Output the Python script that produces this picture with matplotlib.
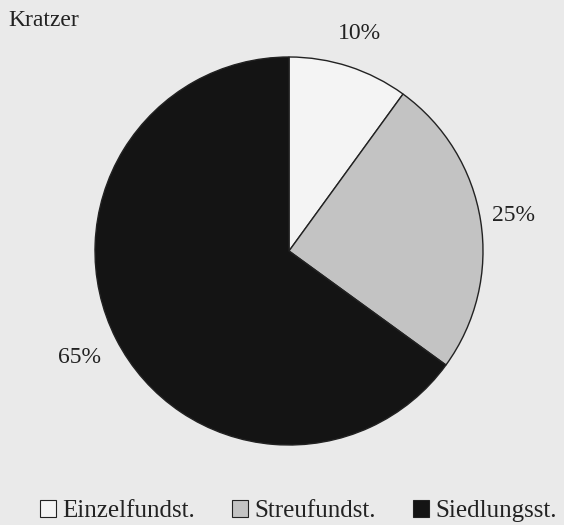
import numpy as np
import matplotlib.pyplot as plt
from matplotlib.patches import Patch

plt.rcParams['font.family'] = ['Liberation Serif', 'DejaVu Serif']

categories = ['Einzelfundst.', 'Streufundst.', 'Siedlungsst.']
shares = [10, 25, 65]
colors = ['#f4f4f4', '#c3c3c3', '#141414']
label_dist = [1.18, 1.17, 1.21]

bg = '#eaeaea'
fig = plt.figure(figsize=(5.64, 5.25), dpi=100, facecolor=bg)
ax = fig.add_axes([95 / 564, 80 / 525, 388 / 564, 388 / 525])
ax.set_facecolor(bg)

wedges, _ = ax.pie(shares, colors=colors, startangle=90, counterclock=False,
                   radius=1, wedgeprops=dict(edgecolor='#222222', linewidth=1.0))
ax.set_xlim(-1, 1)
ax.set_ylim(-1, 1)
ax.set_aspect('equal')
ax.axis('off')

for w, v, d in zip(wedges, shares, label_dist):
    ang = np.deg2rad((w.theta1 + w.theta2) / 2)
    ax.text(d * np.cos(ang), d * np.sin(ang), f'{v}%', ha='center', va='center',
            fontsize=17, color='#222222', clip_on=False)

fig.text(8 / 564, 1 - 21 / 525, 'Kratzer', ha='left', va='center',
         fontsize=17, color='#222222')

handles = [Patch(facecolor=c, edgecolor='#222222', linewidth=0.8) for c in colors]
fig.legend(handles, categories, loc='center', bbox_to_anchor=(0.529, 1 - 511 / 525),
           ncol=3, frameon=False, fontsize=18, handlelength=0.64, handleheight=0.64,
           handletextpad=0.24, columnspacing=1.5, labelcolor='#222222',
           borderpad=0, borderaxespad=0)

fig.savefig('out.png', dpi=100, facecolor=bg)
